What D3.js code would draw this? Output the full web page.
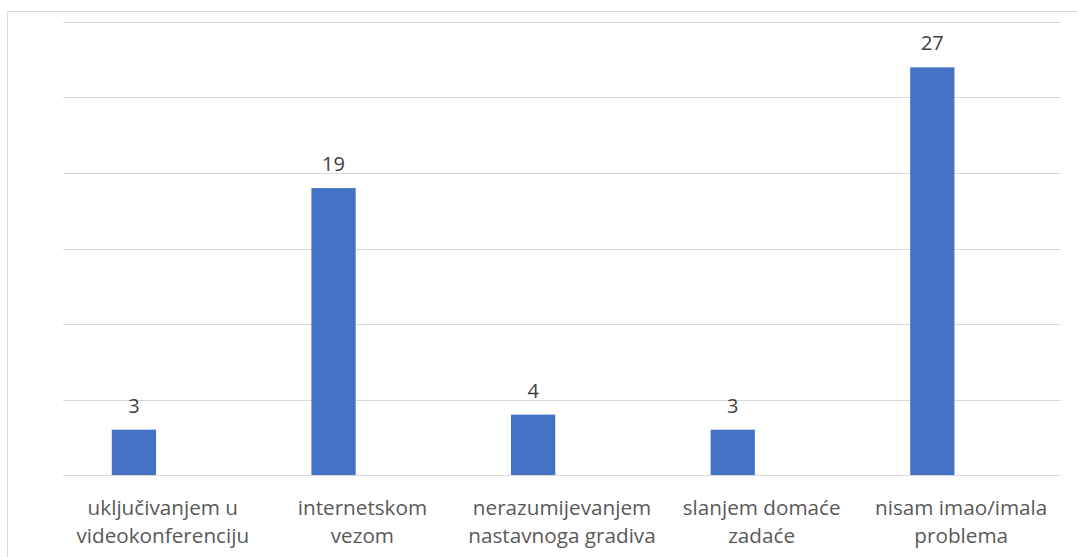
<!DOCTYPE html>
<html>
<head>
<meta charset="utf-8">
<script src="https://cdn.jsdelivr.net/npm/d3@7/dist/d3.min.js"></script>
<style>
  html, body { margin: 0; padding: 0; background: #ffffff; }
  svg { display: block; }
</style>
</head>
<body>
<svg id="chart" width="1077" height="557"></svg>
<script>
// Categories (line breaks mark where the axis labels wrap)
const categories = [
  "uključivanjem u\nvideokonferenciju",
  "internetskom\nvezom",
  "nerazumijevanjem\nnastavnoga gradiva",
  "slanjem domaće\nzadaće",
  "nisam imao/imala\nproblema"
];
const counts = [3, 19, 4, 3, 27];
const yTicks = [0, 5, 10, 15, 20, 25, 30];
// Two slots per category; only the first carries data
const seriesSlots = ["counts", "empty"];

const svg = d3.select("#chart");
const W = 1077, H = 557;
const plot = { left: 63, right: 1061, top: 22, bottom: 475 };
const FONT = "'Open Sans', 'Noto Sans', sans-serif";

// Outer chart frame
svg.append("rect")
  .attr("x", 7.5).attr("y", 11.5)
  .attr("width", W + 20).attr("height", H + 20)
  .attr("fill", "none")
  .attr("stroke", "#d9d9d9")
  .attr("stroke-width", 1);

const x = d3.scaleBand()
  .domain(categories)
  .range([plot.left, plot.right])
  .padding(0);

const xSlot = d3.scaleBand()
  .domain(seriesSlots)
  .range([0, x.bandwidth()])
  .paddingInner(0.233)
  .paddingOuter(0.845);

const y = d3.scaleLinear()
  .domain([0, 30])
  .range([plot.bottom, plot.top]);

// Horizontal gridlines
svg.append("g")
  .selectAll("line")
  .data(yTicks)
  .join("line")
  .attr("x1", plot.left).attr("x2", plot.right)
  .attr("y1", d => Math.round(y(d)) + 0.5)
  .attr("y2", d => Math.round(y(d)) + 0.5)
  .attr("stroke", "#d9d9d9")
  .attr("stroke-width", 1);

const data = categories.map((c, i) => ({ cat: c, value: counts[i] }));

// Bars
svg.append("g")
  .selectAll("rect")
  .data(data)
  .join("rect")
  .attr("x", d => x(d.cat) + xSlot("counts"))
  .attr("y", d => y(d.value))
  .attr("width", xSlot.bandwidth())
  .attr("height", d => y(0) - y(d.value))
  .attr("fill", "#4472c4");

// Value labels above bars
svg.append("g")
  .selectAll("text")
  .data(data)
  .join("text")
  .attr("x", d => x(d.cat) + xSlot("counts") + xSlot.bandwidth() / 2)
  .attr("y", d => y(d.value) - 17)
  .attr("text-anchor", "middle")
  .attr("font-family", FONT)
  .attr("font-size", 20)
  .attr("fill", "#404040")
  .text(d => d.value);

// Category axis labels (two lines each)
const xAxis = d3.axisBottom(x).tickSize(0).tickFormat("");
const axisG = svg.append("g")
  .attr("transform", `translate(0,${plot.bottom})`)
  .call(xAxis);
axisG.select(".domain").remove();

axisG.selectAll(".tick").each(function (d) {
  const t = d3.select(this).append("text")
    .attr("text-anchor", "middle")
    .attr("font-family", FONT)
    .attr("font-size", 20.7)
    .attr("fill", "#595959");
  d.split("\n").forEach((line, i) => {
    t.append("tspan")
      .attr("x", 0)
      .attr("y", 40 + i * 28)
      .text(line);
  });
});
</script>
</body>
</html>
